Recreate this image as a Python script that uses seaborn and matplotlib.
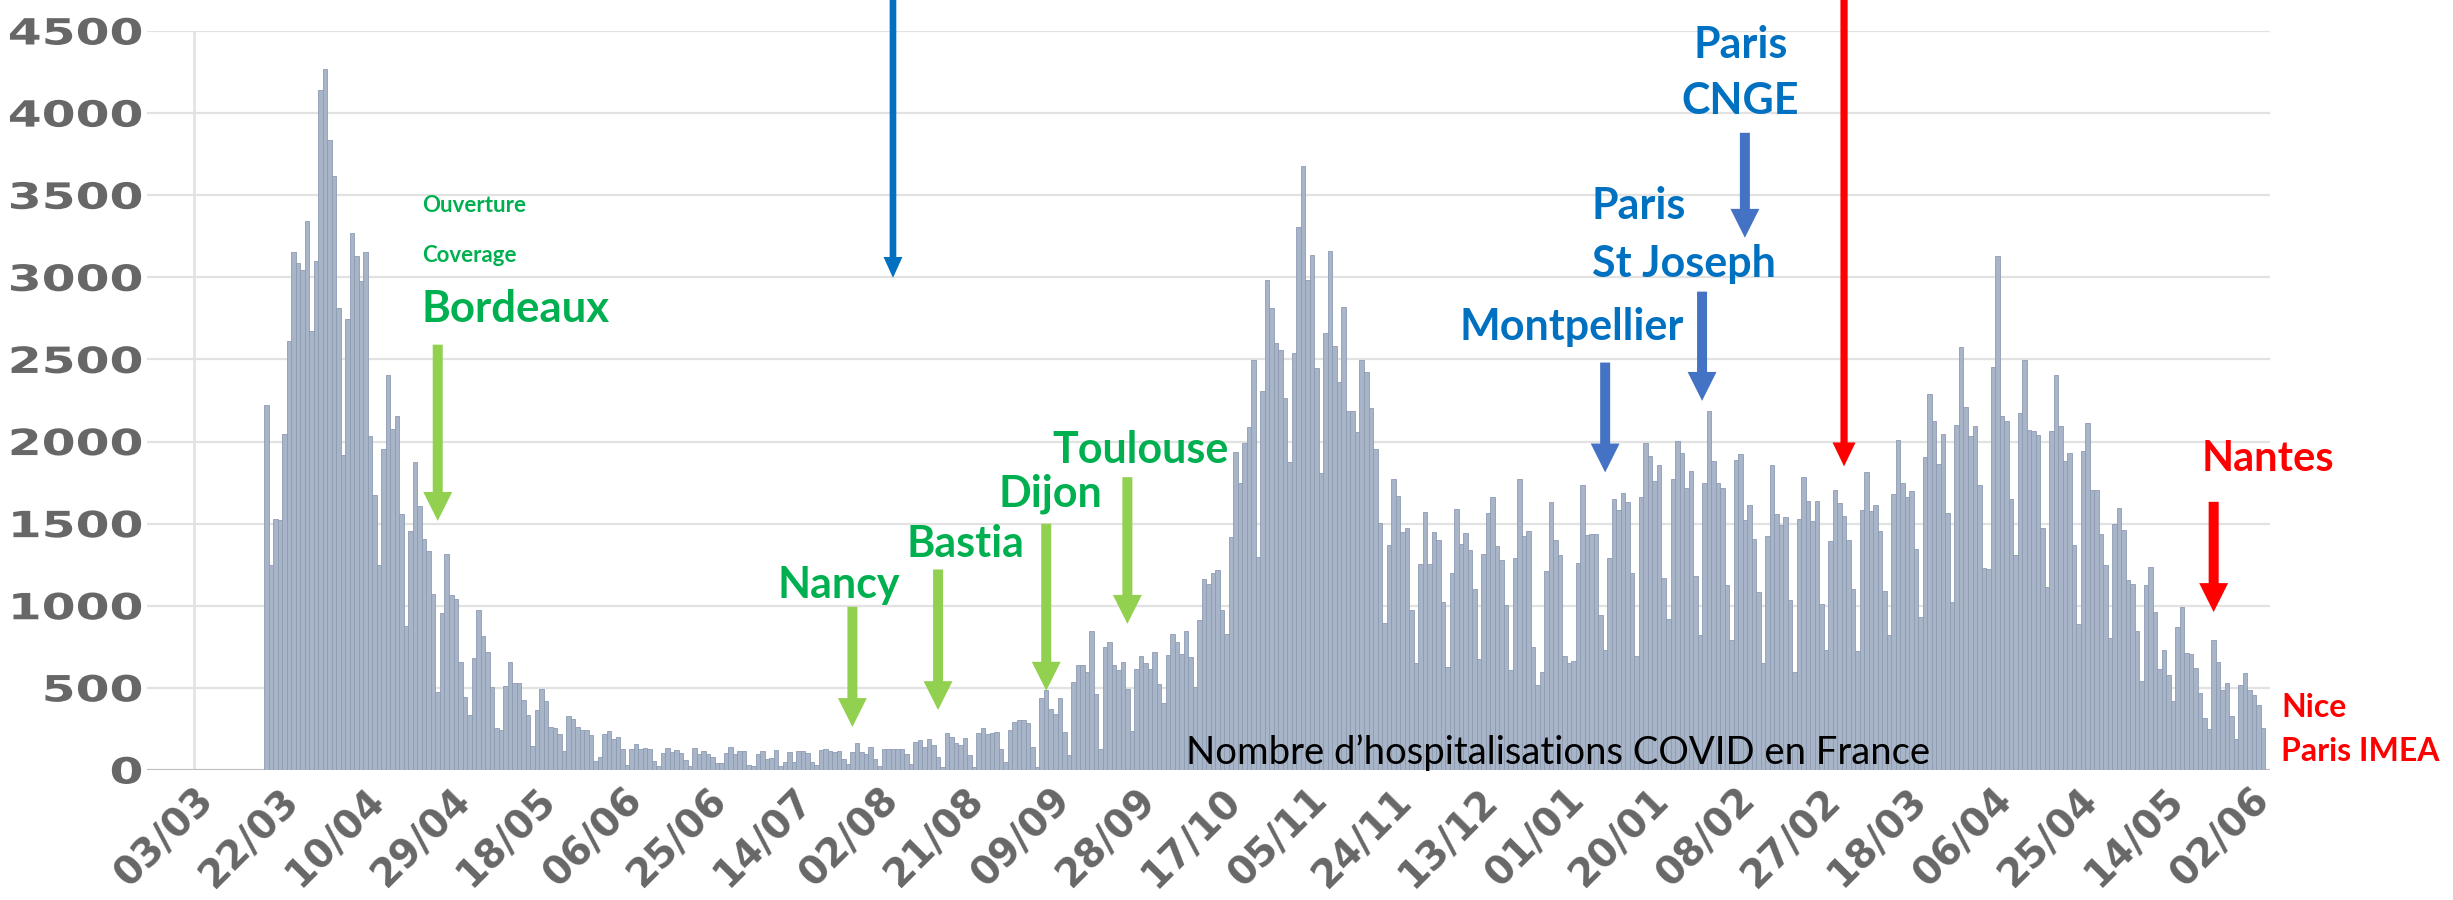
import pandas as pd
import matplotlib
matplotlib.use('Agg')
import matplotlib.pyplot as plt
from matplotlib.patheffects import AbstractPathEffect
from matplotlib.transforms import Affine2D
import seaborn as sns

# --- Daily new COVID hospitalisations in France ---
# 19/03/2020 -> 30/04/2020
wave1_rise = [2220, 1250, 1529, 1523, 2046, 2610, 3153, 3090, 3046, 3345, 2676, 3101,
              4139, 4268, 3837, 3615, 2811, 1920, 2745, 3268, 3130, 2980, 3153, 2032,
              1676, 1250, 1954, 2405, 2075, 2156, 1558, 877, 1457, 1877, 1609, 1408,
              1336, 1069, 474, 954, 1313, 1063, 1040]
# 01/05 -> 13/06
wave1_fall = [658, 445, 336, 681, 977, 819, 716, 503, 253, 241, 512, 658, 532, 532,
              428, 336, 144, 365, 494, 422, 264, 256, 221, 115, 330, 308, 259, 244,
              244, 216, 57, 80, 221, 239, 187, 201, 129, 29, 129, 158, 129, 135, 129, 57]
# 14/06 -> 07/09
summer = [27,
          102, 135, 110, 122, 105, 60, 27,
          135, 100, 114, 98, 78, 45, 40,
          102, 139, 96, 118, 114, 30, 22,
          98, 118, 70, 73, 124, 22, 47,
          110, 50, 118, 118, 102, 47, 33,
          122, 125, 114, 108, 114, 67, 37,
          108, 163, 108, 100, 139, 67, 27,
          128, 128, 128, 125, 128, 100, 37,
          173, 180, 139, 190, 150, 78, 20,
          224, 200, 165, 150, 196, 90, 20,
          224, 255, 220, 226, 234, 128, 47,
          241, 292, 306, 302, 286, 139, 18,
          440]
# 08/09 -> 11/10
autumn_rise = [486, 373, 343, 439, 230, 94, 537, 639, 639, 594, 847, 465, 128, 751,
               777, 639, 608, 655, 496, 235, 612, 696, 649, 618, 716, 526, 408, 700,
               826, 777, 706, 849, 690, 506]
# 12/10 -> 26/11
wave2 = [911, 1162, 1130, 1201, 1220, 977, 826, 1418, 1935, 1750, 1993, 2086, 2495,
         1294, 2305, 2983, 2812, 2600, 2556, 2265, 1874, 2542, 3305, 3678, 2983, 3136,
         2447, 1808, 2661, 3163, 2579, 2363, 2820, 2186, 2186, 2059, 2495, 2421, 2204,
         1954, 1505, 898, 1373, 1769, 1671, 1452]
# 27/11 -> 10/01
winter_a = [1472, 977, 652, 1252, 1573, 1252, 1449, 1400, 1022, 629, 1202, 1589, 1375,
            1443, 1337, 1101, 674, 1315, 1562, 1663, 1366, 1281, 1004, 607, 1288, 1775,
            1427, 1454, 746, 517, 595, 1213, 1629, 1400, 1310, 697, 652, 663, 1258,
            1737, 1434, 1438, 1438, 944, 730]
# 11/01 -> 23/02
winter_b = [1292, 1652, 1584, 1685, 1629, 1202, 697, 1663, 1989, 1910, 1757, 1858, 1168,
            921, 1771, 2004, 1932, 1719, 1820, 1180, 820, 1748, 2186, 1881, 1748, 1719,
            1128, 793, 1888, 1926, 1521, 1611, 1404, 1085, 652, 1427, 1858, 1557, 1494,
            1539, 1034, 595, 1528, 1782]
# 24/02 -> 09/04
wave3_rise = [1640, 1517, 1640, 1011, 730, 1393, 1708, 1625, 1544, 1400, 1101, 726, 1584,
              1813, 1578, 1613, 1454, 1090, 825, 1679, 2007, 1746, 1663, 1701, 1348, 933,
              1903, 2292, 2128, 1865, 2049, 1566, 1022, 2101, 2577, 2209, 2034, 2094, 1735,
              1229, 1225, 2456, 3128, 2157, 2124]
# 10/04 -> 09/05
wave3_fall = [1652, 1308, 2173, 2499, 2072, 2063, 2040, 1476, 1112, 2067, 2404, 2097, 1881,
              1932, 1371, 888, 1944, 2112, 1708, 1708, 1438, 1247, 802, 1499, 1595, 1461,
              1157, 1135, 847, 539]
# 10/05 -> 05/06/2021
late_spring = [1126, 1235, 960, 617, 730, 578, 418, 872, 995, 712, 709, 624, 467, 319, 251,
               792, 659, 490, 530, 326, 190, 520, 588, 486, 455, 398, 255]

values = (wave1_rise + wave1_fall + summer + autumn_rise + wave2 + winter_a + winter_b
          + wave3_rise + wave3_fall + late_spring)

start = pd.Timestamp('2020-03-03')
dates = pd.date_range('2020-03-19', periods=len(values), freq='D')
df = pd.DataFrame({'day': (dates - start).days, 'hosp': values})

tick_dates = pd.date_range('2020-03-03', '2021-06-02', freq='19D')


def day(d):
    return (pd.Timestamp(d) - start) / pd.Timedelta(days=1)


class Stretch(AbstractPathEffect):
    """Widen the drawn label horizontally, keeping its right end in place."""

    def __init__(self, sx):
        super().__init__()
        self.sx = sx

    def draw_path(self, renderer, gc, tpath, affine, rgbFace=None):
        x_right = affine.transform((tpath.get_extents().x1, 0))[0]
        aff = affine + Affine2D().translate(-x_right, 0).scale(self.sx, 1).translate(x_right, 0)
        renderer.draw_path(gc, tpath, aff, rgbFace)


BAR = '#a8b5c8'
EDGE = '#8e9cb2'
TICK = '#676767'
GREEN, GREEN_ARROW = '#00b050', '#92d050'
BLUE, BLUE_ARROW = '#0070c0', '#4472c4'
RED = '#ff0000'

sns.set_theme(style='white')
plt.rcParams['font.family'] = ['Lato', 'DejaVu Sans']

fig = plt.figure(figsize=(24.53, 9), dpi=100)
ax = fig.add_axes([147 / 2453, 130 / 900, 2123 / 2453, 739 / 900])

sns.barplot(data=df, x='day', y='hosp', native_scale=True, width=1, color=BAR,
            saturation=1, edgecolor=EDGE, linewidth=0.6, errorbar=None, ax=ax, zorder=2)

ax.set_xlim(-10.5, 460.5)
ax.set_ylim(0, 4500)
ax.set_xlabel('')
ax.set_ylabel('')
sns.despine(ax=ax, left=True, bottom=True)

ax.set_yticks(range(0, 4501, 500))
ax.yaxis.grid(True, color='#e2e2e2', lw=1.6, zorder=0)
ax.set_axisbelow(True)
ax.axvline(0, color='#e4e4e4', lw=2, zorder=0)
ax.axhline(0, color='#bdbdbd', lw=2.2, zorder=1)

ax.set_xticks((tick_dates - start).days)
ax.set_xticklabels(tick_dates.strftime('%d/%m'), rotation=45, ha='right',
                   rotation_mode='anchor')
ax.tick_params(axis='both', length=0, labelcolor=TICK, labelsize=26)
ax.tick_params(axis='x', pad=8, labelsize=28)
ax.tick_params(axis='y', pad=3)
for lbl in ax.get_xticklabels():
    lbl.set_fontweight('bold')
    lbl.set_family('DejaVu Sans')
for lbl in ax.get_yticklabels():
    lbl.set_fontweight('bold')
    lbl.set_family('DejaVu Sans')
    lbl.set_path_effects([Stretch(1.35)])

fat = 'simple,head_length=1.04,head_width=1.04,tail_width=0.36'


def arrow(x, y_from, y_to, color, style=fat):
    ax.annotate('', xy=(x, y_to), xytext=(x, y_from),
                arrowprops=dict(arrowstyle=style, color=color, lw=0, mutation_scale=20,
                                shrinkA=0, shrinkB=0),
                annotation_clip=False)


def label(x, y, s, color, size, ha='center', weight='bold'):
    ax.text(x, y, s, color=color, fontsize=size, fontweight=weight, ha=ha,
            va='baseline', clip_on=False)


# long vertical markers from the top of the figure
arrow(day('2020-08-05'), 4700, 2997, '#0070c0',
      'simple,head_length=0.75,head_width=0.68,tail_width=0.24')
arrow(day('2021-03-04'), 4700, 1849, RED,
      'simple,head_length=0.86,head_width=0.83,tail_width=0.26')

# green: centres opened in 2020
label(day('2020-04-22 12:00'), 3397, 'Ouverture', GREEN, 16, ha='left')
label(day('2020-04-22 12:00'), 3095, 'Coverage', GREEN, 16, ha='left')
label(day('2020-04-22 12:00'), 2729, 'Bordeaux', GREEN, 31.5, ha='left')
arrow(day('2020-04-26'), 2590, 1517, GREEN_ARROW)

label(day('2020-07-24'), 1050, 'Nancy', GREEN, 31)
arrow(day('2020-07-27'), 994, 262, GREEN_ARROW)
label(day('2020-08-21'), 1300, 'Bastia', GREEN, 31)
arrow(day('2020-08-15'), 1221, 365, GREEN_ARROW)
label(day('2020-09-09'), 1603, 'Dijon', GREEN, 31)
arrow(day('2020-09-08'), 1500, 483, GREEN_ARROW)
label(day('2020-09-29'), 1872, 'Toulouse', GREEN, 31)
arrow(day('2020-09-26'), 1783, 890, GREEN_ARROW)

# blue: winter 2021
label(day('2021-01-02 12:00'), 2618, 'Montpellier', BLUE, 31)
arrow(day('2021-01-10'), 2481, 1812, BLUE_ARROW)
label(day('2021-01-07'), 3358, 'Paris', BLUE, 31, ha='left')
label(day('2021-01-07'), 3005, 'St Joseph', BLUE, 31, ha='left')
arrow(day('2021-01-31 12:00'), 2913, 2248, BLUE_ARROW)
label(day('2021-02-09'), 4337, 'Paris', BLUE, 31)
label(day('2021-02-09'), 3996, 'CNGE', BLUE, 31)
arrow(day('2021-02-10'), 3880, 3241, BLUE_ARROW)

# red: spring 2021
label(day('2021-06-06'), 1821, 'Nantes', RED, 30)
arrow(day('2021-05-25'), 1633, 962, RED)
label(day('2021-06-09'), 323, 'Nice', RED, 23, ha='left')
label(day('2021-06-09'), 55, 'Paris IMEA', RED, 23, ha='left')

label(day('2020-10-09'), 34, 'Nombre d\u2019hospitalisations COVID en France', 'black', 27.5,
      ha='left', weight='normal')

fig.savefig('out.png', dpi=100)
